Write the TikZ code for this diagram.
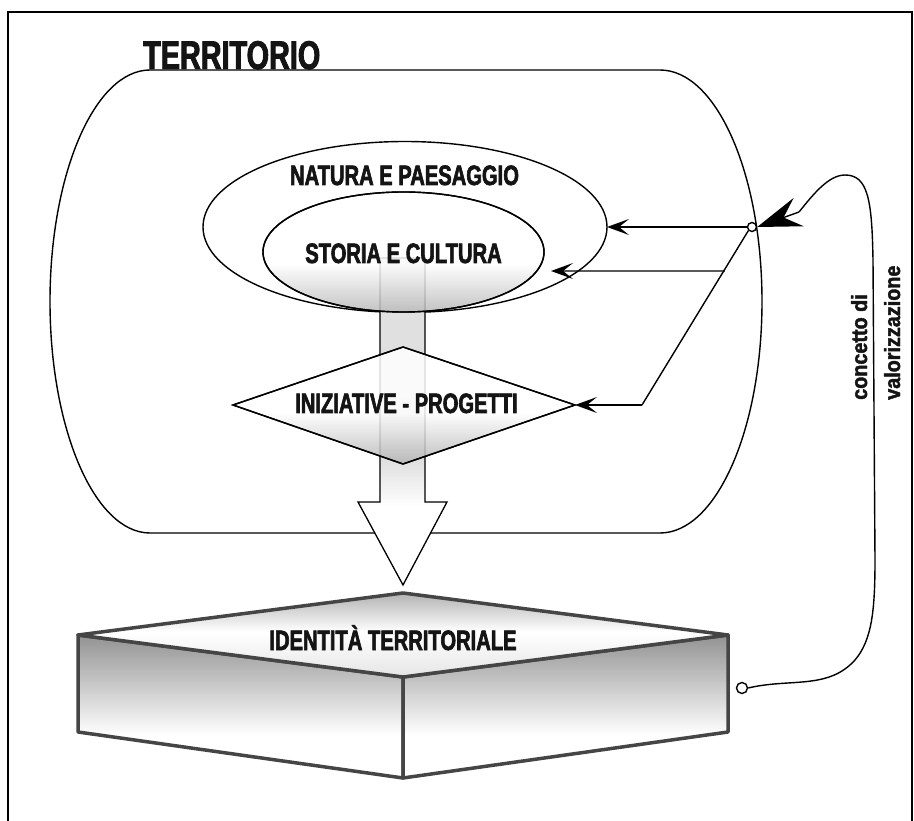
\documentclass[tikz,border=0pt]{standalone}
\usepackage{fontspec}
\newfontfamily\imp{Liberation Sans}[FakeStretch=0.72, BoldFeatures={FakeBold=2.2}]
\newfontfamily\impw{Liberation Sans}[FakeStretch=0.9, BoldFeatures={FakeBold=1.8}]
\usetikzlibrary{arrows.meta,calc}
\definecolor{boxgray}{HTML}{454545}
\definecolor{txt}{HTML}{141414}
\pgfdeclareverticalshading{ellsh}{100bp}{color(0bp)=(gray!55); color(25bp)=(gray!55); color(45bp)=(white); color(100bp)=(white)}
\pgfdeclareverticalshading{diash}{100bp}{color(0bp)=(gray!60); color(25bp)=(gray!60); color(47bp)=(white); color(100bp)=(white)}
\pgfdeclareverticalshading{topsh}{100bp}{color(0bp)=(gray!20); color(25bp)=(gray!20); color(52bp)=(white); color(75bp)=(gray!60); color(100bp)=(gray!60)}
\pgfdeclareverticalshading{sidesh}{100bp}{color(0bp)=(white); color(25bp)=(white); color(40bp)=(white); color(75bp)=(gray!85); color(100bp)=(gray!85)}
\pgfdeclareverticalshading{shaftsh}{100bp}{color(0bp)=(white); color(25bp)=(white); color(37bp)=(white); color(45bp)=(gray!28); color(75bp)=(gray!22); color(100bp)=(gray!22)}
\begin{document}
\begin{tikzpicture}[x=1pt,y=-1pt,
  thinln/.style={line width=1.4pt, draw=black},
  arr/.style={thinln, -{Stealth[length=22pt,width=16pt,inset=10pt]}},
  bigarr/.style={thinln, -{Stealth[length=44pt,width=30pt,inset=16pt]}},
  lbl/.style={font=\imp\bfseries\fontsize{28}{30}\selectfont, inner sep=0pt, text=txt, anchor=base},
  rlbl/.style={font=\impw\bfseries\fontsize{22}{24}\selectfont, inner sep=0pt, text=txt, anchor=base west, rotate=90},
  boxln/.style={draw=boxgray, line width=3.5pt, line join=round},
  dot/.style={circle, draw=black, line width=1.4pt, fill=white, inner sep=0pt}]
\useasboundingbox (0,0) rectangle (914,821);
% frame
\draw[line width=2.2pt] (8,12) rectangle (912,840);
% territorio
\draw[thinln, fill=white] (150,70) -- (660,70)
  arc[start angle=-90, end angle=90, x radius=102, y radius=231.5]
  -- (150,533)
  arc[start angle=90, end angle=270, x radius=100, y radius=231.5] -- cycle;
\node[font=\imp\bfseries\fontsize{40}{42}\selectfont, text=txt, anchor=base west, inner sep=0pt] (terr) at (143,69) {TERRITORIO};
% outer ellipse
\draw[thinln, fill=white] (405,227) ellipse[x radius=202, y radius=85.5];
\coordinate (natE) at (607,227);
% big arrow
\draw[line width=1.3pt, shading=shaftsh] (380,258) -- (425,258) -- (425,502) -- (447,502) -- (403,585) -- (358,502) -- (380,502) -- cycle;
% inner ellipse
\draw[thinln, shading=ellsh, fill opacity=0.85] (403.5,252) ellipse[x radius=140.5, y radius=60];
\draw[thinln] (403.5,252) ellipse[x radius=140.5, y radius=60];
\coordinate (stoE) at (551,271);
% diamond
\coordinate (dT) at (403,347);
\coordinate (dR) at (575,405);
\coordinate (dB) at (403,464);
\coordinate (dL) at (233,405);
\draw[thinln, shading=diash, fill opacity=0.85, line join=miter] (dT) -- (dR) -- (dB) -- (dL) -- cycle;
\draw[thinln, line join=miter] (dT) -- (dR) -- (dB) -- (dL) -- cycle;
% labels
\node[lbl] (nat) at (404.5,185) {NATURA E PAESAGGIO};
\node[lbl] (sto) at (403.5,263) {STORIA E CULTURA};
\node[lbl] (ini) at (406.5,413) {INIZIATIVE - PROGETTI};
% connectors inside
\node[dot, minimum size=9pt] (cs) at (752,227) {};
\coordinate (bend) at (642,405);
\coordinate (br) at ($(cs)!0.247!(bend)$);
\draw[arr] (cs.west) -- (natE);
\draw[thinln] (cs.south west) -- (bend);
\draw[arr] (bend) -- (dR);
\draw[arr] (br) -- (stoE);
% box
\draw[boxln, shading=sidesh] (78,635) -- (403,677) -- (403,778) -- (78,732) -- cycle;
\draw[boxln, shading=sidesh] (403,677) -- (728,635) -- (728,732) -- (403,778) -- cycle;
\draw[boxln, shading=topsh] (403,593) -- (728,635) -- (403,677) -- (78,635) -- cycle;
\node[lbl] (idt) at (393,650) {IDENTITÀ TERRITORIALE};
% feedback curve
\node[dot, minimum size=11pt] (cb) at (742,688) {};
\draw[thinln] (cb.east) .. controls (790,678) and (828,690) .. (855,660)
  .. controls (872,640) and (875,610) .. (875,560) -- (873,260)
  .. controls (872,200) and (868,175) .. (845,175)
  .. controls (828,175) and (812,196) .. (799,212);
\draw[bigarr] (799,212) -- (cs.east);
\node[rlbl] (conc) at (867,400) {concetto di};
\node[rlbl] (valo) at (900,400) {valorizzazione};
\end{tikzpicture}
\end{document}
